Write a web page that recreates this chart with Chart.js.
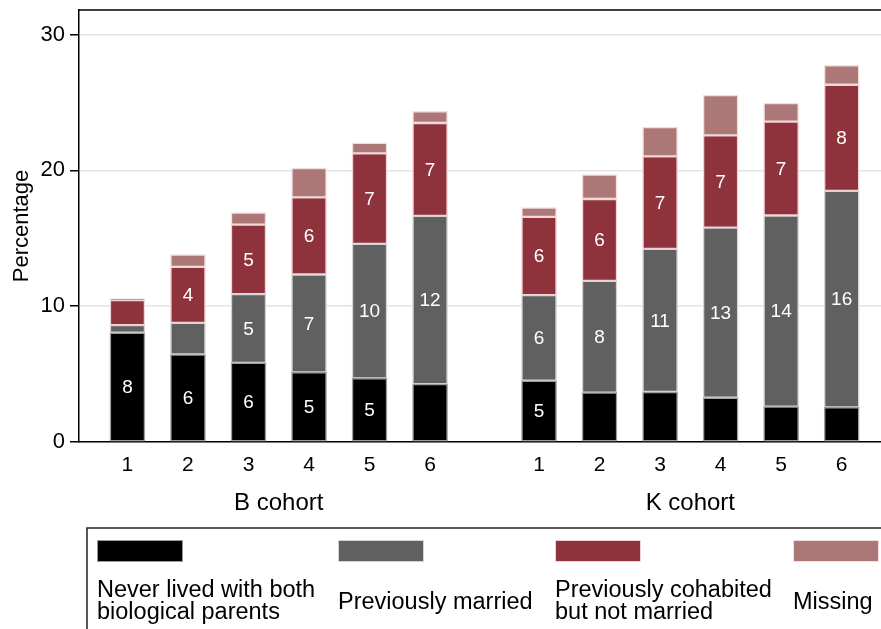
<!DOCTYPE html>
<html>
<head>
<meta charset="utf-8">
<title>Family structure by cohort</title>
<script src="https://cdn.jsdelivr.net/npm/chart.js@4.4.1/dist/chart.umd.min.js"></script>
<style>
  html, body { margin: 0; padding: 0; background: #fff; }
  #chart { display: block; }
</style>
</head>
<body>
<canvas id="chart" width="881" height="629"></canvas>
<script>
// chart values
var waves = ['1', '2', '3', '4', '5', '6'];
var cohorts = ['B cohort', 'K cohort'];

var neverLived  = [8.04, 6.44, 5.83, 5.12, 4.68, 4.26,   4.51, 3.63, 3.68, 3.26, 2.60, 2.55];
var prevMarried = [0.56, 2.33, 5.05, 7.21, 9.90, 12.38,  6.30, 8.23, 10.54, 12.52, 14.07, 15.93];
var prevCohab   = [1.84, 4.12, 5.12, 5.68, 6.67, 6.84,   5.76, 6.03, 6.81, 6.79, 6.91, 7.82];
var missing     = [0.12, 0.91, 0.89, 2.16, 0.78, 0.86,   0.69, 1.79, 2.16, 2.97, 1.37, 1.42];

// labels printed inside the bars ('' = no label)
var neverLabels   = ['8', '6', '6', '5', '5', '',   '5', '', '', '', '', ''];
var marriedLabels = ['', '', '5', '7', '10', '12',  '6', '8', '11', '13', '14', '16'];
var cohabLabels   = ['', '4', '5', '6', '7', '7',   '6', '6', '7', '7', '7', '8'];
var missingLabels = ['', '', '', '', '', '',        '', '', '', '', '', ''];

var yTicks = [0, 10, 20, 30];

var seriesNames = [
    ['Never lived with both', 'biological parents'],
    ['Previously married'],
    ['Previously cohabited', 'but not married'],
    ['Missing']
];

var FONT = '"Liberation Sans", Arial, Helvetica, sans-serif';
var GAP = 0.8; // extra space between the two cohorts, in bar slots

// x position of every bar: wave index plus an offset per cohort
var xPos = [];
var tickLabels = [];
cohorts.forEach(function (c, g) {
    waves.forEach(function (w, i) {
        xPos.push(g * (waves.length + GAP) + i);
        tickLabels.push(w);
    });
});

function toPoints(values) {
    return values.map(function (v, i) { return { x: xPos[i], y: v }; });
}

var fills = ['#000000', '#606060', '#8e333c', '#ab7777'];
var edges = ['#9c9c9c', '#d4d4d4', '#f3d3d6', '#f3dedf'];
var allValues = [neverLived, prevMarried, prevCohab, missing];
var allLabels = [neverLabels, marriedLabels, cohabLabels, missingLabels];

var datasets = allValues.map(function (vals, k) {
    return {
        label: seriesNames[k].join(' '),
        data: toPoints(vals),
        backgroundColor: fills[k],
        borderColor: edges[k],
        borderWidth: 1.5,
        borderSkipped: false,
        barThickness: 35,
        segLabels: allLabels[k]
    };
});

var decorPlugin = {
    id: 'decor',
    afterDatasetsDraw: function (chart) {
        var ctx = chart.ctx;
        ctx.save();
        ctx.fillStyle = '#ffffff';
        ctx.font = '19px ' + FONT;
        ctx.textAlign = 'center';
        ctx.textBaseline = 'middle';
        chart.data.datasets.forEach(function (ds, k) {
            var meta = chart.getDatasetMeta(k);
            meta.data.forEach(function (bar, i) {
                var txt = ds.segLabels[i];
                if (!txt) return;
                ctx.fillText(txt, bar.x, (bar.y + bar.base) / 2 + 1);
            });
        });
        ctx.restore();
    },
    afterDraw: function (chart) {
        var ctx = chart.ctx;
        var area = chart.chartArea;
        var xs = chart.scales.x;
        ctx.save();

        // top frame line
        ctx.strokeStyle = '#000';
        ctx.lineWidth = 1.5;
        ctx.beginPath();
        ctx.moveTo(area.left, area.top);
        ctx.lineTo(chart.width, area.top);
        ctx.stroke();

        // cohort labels under the wave ticks
        ctx.fillStyle = '#000';
        ctx.font = '24px ' + FONT;
        ctx.textAlign = 'center';
        ctx.textBaseline = 'alphabetic';
        cohorts.forEach(function (c, g) {
            var first = xPos[g * waves.length];
            var last = xPos[g * waves.length + waves.length - 1];
            var cx = (xs.getPixelForValue(first) + xs.getPixelForValue(last)) / 2;
            ctx.fillText(c, cx, 510);
        });

        // legend box
        var boxLeft = 87, boxTop = 528;
        ctx.strokeStyle = '#222';
        ctx.lineWidth = 1.5;
        ctx.beginPath();
        ctx.moveTo(boxLeft, chart.height);
        ctx.lineTo(boxLeft, boxTop);
        ctx.lineTo(chart.width, boxTop);
        ctx.stroke();

        var keyX = [97, 338, 555, 793];
        ctx.font = '23.5px ' + FONT;
        ctx.textAlign = 'left';
        seriesNames.forEach(function (lines, k) {
            ctx.fillStyle = fills[k];
            ctx.fillRect(keyX[k], 540, 86, 22);
            ctx.strokeStyle = edges[k];
            ctx.lineWidth = 1;
            ctx.strokeRect(keyX[k] + 0.5, 540.5, 85, 21);
            ctx.fillStyle = '#000';
            if (lines.length === 2) {
                ctx.fillText(lines[0], keyX[k], 597);
                ctx.fillText(lines[1], keyX[k], 619);
            } else {
                ctx.fillText(lines[0], keyX[k], 609);
            }
        });
        ctx.restore();
    }
};

new Chart(document.getElementById('chart').getContext('2d'), {
    type: 'bar',
    data: { datasets: datasets },
    options: {
        responsive: false,
        animation: false,
        layout: { padding: { top: 10, right: 0, left: 0, bottom: 0 } },
        plugins: {
            legend: { display: false },
            tooltip: { enabled: false }
        },
        scales: {
            x: {
                type: 'linear',
                stacked: true,
                offset: false,
                min: -0.8,
                max: 12.45,
                grid: { display: false, drawTicks: false, offset: false },
                border: { display: true, color: '#000', width: 1.5 },
                afterBuildTicks: function (scale) {
                    scale.ticks = xPos.map(function (v) { return { value: v }; });
                },
                afterFit: function (scale) {
                    scale.height = 187;
                    scale.paddingLeft = 0;
                    scale.paddingRight = 0;
                },
                ticks: {
                    autoSkip: false,
                    maxRotation: 0,
                    padding: 11,
                    color: '#000',
                    font: { family: FONT, size: 21 },
                    callback: function (value, index) { return tickLabels[index]; }
                }
            },
            y: {
                stacked: true,
                min: 0,
                max: 31.8,
                afterBuildTicks: function (scale) {
                    scale.ticks = yTicks.map(function (v) { return { value: v }; });
                },
                afterFit: function (scale) {
                    scale.width = 79;
                    scale.paddingTop = 0;
                    scale.paddingBottom = 0;
                },
                grid: {
                    color: '#e3e3e3',
                    lineWidth: 1.5,
                    drawTicks: true,
                    tickLength: 9,
                    tickColor: '#000',
                    tickWidth: 1.5
                },
                border: { display: true, color: '#000', width: 1.5 },
                ticks: {
                    padding: 5,
                    color: '#000',
                    font: { family: FONT, size: 22 }
                },
                title: {
                    display: true,
                    text: 'Percentage',
                    color: '#000',
                    padding: { top: 9, bottom: 0 },
                    font: { family: FONT, size: 22 }
                }
            }
        }
    },
    plugins: [decorPlugin]
});
</script>
</body>
</html>
